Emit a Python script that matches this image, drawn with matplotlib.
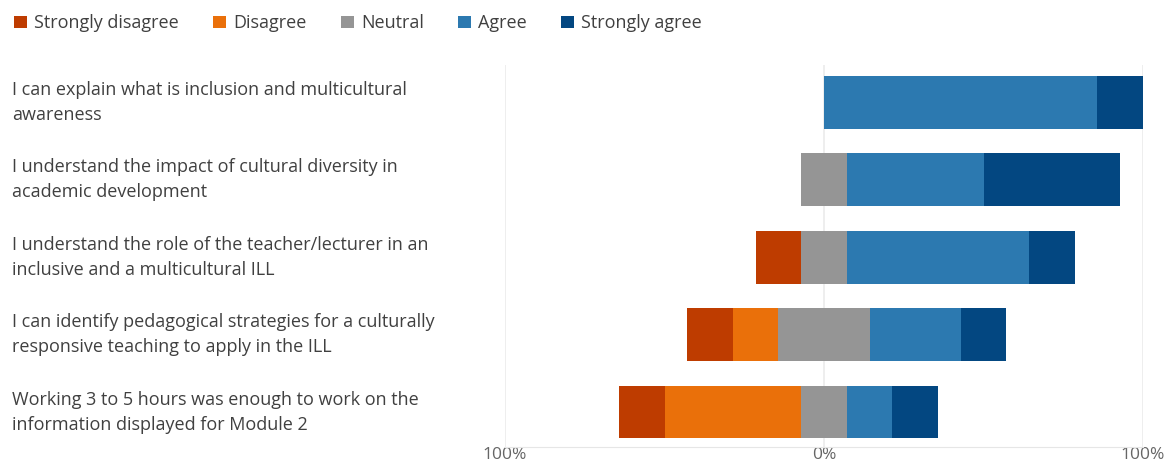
#!/usr/bin/env python3
"""Diverging stacked bar chart of Likert survey answers (Module 2)."""

import matplotlib
matplotlib.use('Agg')
import matplotlib.pyplot as plt
from matplotlib.patches import Patch
import numpy as np

# survey data (number of respondents per answer, 7 respondents)
QUESTIONS = [
    "I can explain what is inclusion and multicultural\nawareness",
    "I understand the impact of cultural diversity in\nacademic development",
    "I understand the role of the teacher/lecturer in an\ninclusive and a multicultural ILL",
    "I can identify pedagogical strategies for a culturally\nresponsive teaching to apply in the ILL",
    "Working 3 to 5 hours was enough to work on the\ninformation displayed for Module 2",
]
LEVELS = ["Strongly disagree", "Disagree", "Neutral", "Agree", "Strongly agree"]
STRONGLY_DISAGREE = [0, 0, 1, 1, 1]
DISAGREE = [0, 0, 0, 1, 3]
NEUTRAL = [0, 1, 1, 2, 1]
AGREE = [6, 3, 4, 2, 1]
STRONGLY_AGREE = [1, 3, 1, 1, 1]
RESPONDENTS = 7

COLORS = ['#be3c00', '#ea700a', '#959595', '#2c79b0', '#034781']
TEXT_COLOR = '#404040'

plt.rcParams['font.family'] = ['Open Sans', 'DejaVu Sans']

counts = np.array([STRONGLY_DISAGREE, DISAGREE, NEUTRAL, AGREE, STRONGLY_AGREE], dtype=float)
pct = counts / RESPONDENTS * 100.0
# neutral is centred on the 0% line
start = -(pct[0] + pct[1] + pct[2] / 2)

fig = plt.figure(figsize=(11.7, 4.66), dpi=100)
ax = fig.add_axes([505 / 1170, 1 - 447 / 466, (1143 - 505) / 1170, (447 - 65) / 466])

y = np.arange(len(QUESTIONS))
left = start.copy()
for i, level in enumerate(LEVELS):
    ax.barh(y, pct[i], left=left, height=0.68, color=COLORS[i], label=level,
            edgecolor='none', zorder=3)
    left = left + pct[i]

ax.set_xlim(-100, 100)
ax.set_ylim(4.45, -0.48)
for xv in (-100, 0, 100):
    ax.axvline(xv, color='#ebebeb', linewidth=1.2, zorder=1)
ax.set_xticks([-100, 0, 100])
ax.set_xticklabels(['100%', '0%', '100%'], color='#666666', fontsize=12.5)
ax.tick_params(axis='x', length=0, pad=0)
ax.set_yticks([])
for side in ('top', 'left', 'right'):
    ax.spines[side].set_visible(False)
ax.spines['bottom'].set_color('#e6e6e6')

# question labels on the left side of the figure
for yi, q in zip(y, QUESTIONS):
    ax.annotate(q, xy=(12 / 1170, yi), xycoords=('figure fraction', 'data'),
                ha='left', va='center', fontsize=13, color=TEXT_COLOR,
                linespacing=1.5)

handles = [Patch(facecolor=c, edgecolor='none') for c in COLORS]
fig.legend(handles, LEVELS, loc='upper left', bbox_to_anchor=(0.0, 1.0), ncol=5,
           frameon=False, fontsize=13, handlelength=0.7, handleheight=0.7,
           handletextpad=0.4, columnspacing=1.9, labelcolor=TEXT_COLOR,
           borderaxespad=0.4)

fig.savefig('out.png', dpi=100)
